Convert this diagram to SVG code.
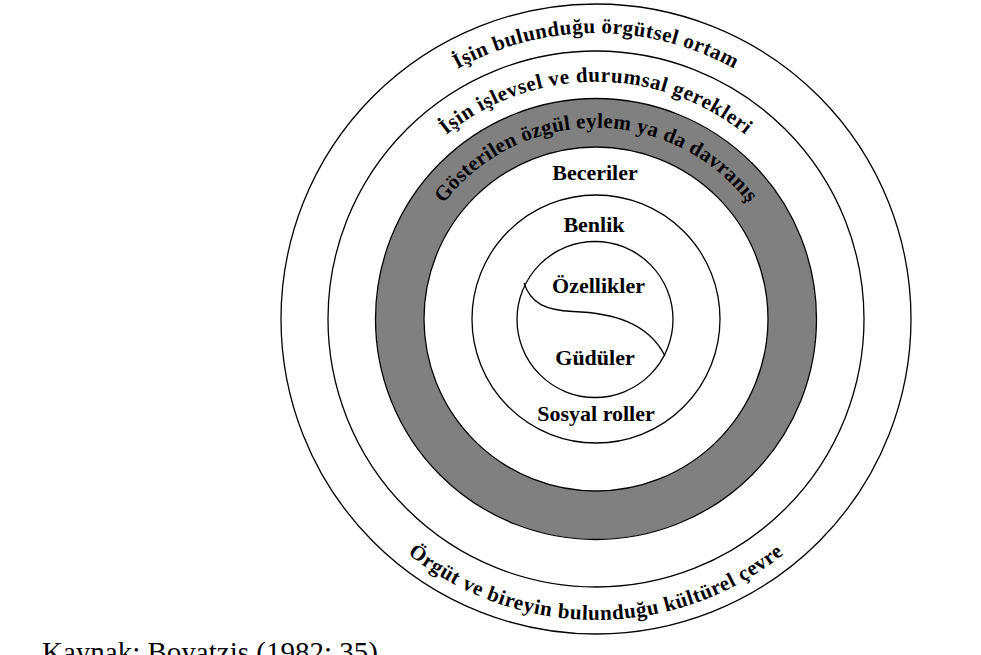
<svg xmlns="http://www.w3.org/2000/svg" width="981" height="655" viewBox="0 0 981 655">
<style>
.ring{fill:none;stroke:#000;stroke-width:1.3}
.lbl{font-family:"Liberation Serif","Times New Roman",serif;font-weight:bold;font-size:22px;fill:#000;text-anchor:middle}
.arc{font-family:"Liberation Serif","Times New Roman",serif;font-weight:bold;font-size:21px;fill:#000}
.src{font-family:"Liberation Serif","Times New Roman",serif;font-size:29px;fill:#000}
</style>
<defs>
<path id="p1" d="M310,319 A286,286 0 0 1 882,319"/>
<path id="p2" d="M358.7,319 A237.3,237.3 0 0 1 833.3,319"/>
<path id="p3" d="M404.7,319 A191.3,191.3 0 0 1 787.3,319"/>
<path id="p4" d="M295,319 A301,301 0 0 0 897,319"/>
</defs>
<rect width="981" height="655" fill="#fff"/>
<g id="outer">
<circle class="ring" cx="596" cy="319" r="315"/>
<text class="arc" letter-spacing="0.5"><textPath href="#p1" startOffset="50%" text-anchor="middle">İşin bulunduğu örgütsel ortam</textPath></text>
<text class="arc" letter-spacing="0.6"><textPath href="#p4" startOffset="50%" text-anchor="middle">Örgüt ve bireyin bulunduğu kültürel çevre</textPath></text>
</g>
<g id="ring2">
<circle class="ring" cx="596" cy="319" r="268"/>
<text class="arc" letter-spacing="0.57"><textPath href="#p2" startOffset="50%" text-anchor="middle">İşin işlevsel ve durumsal gerekleri</textPath></text>
</g>
<g id="behaviour">
<circle cx="596" cy="319" r="196.2" fill="none" stroke="#808080" stroke-width="48"/>
<circle class="ring" cx="596" cy="319" r="220.5"/>
<circle class="ring" cx="596" cy="319" r="172"/>
<text class="arc" letter-spacing="0.3"><textPath href="#p3" startOffset="50%" text-anchor="middle">Gösterilen özgül eylem ya da davranış</textPath></text>
</g>
<g id="skills">
<text class="lbl" x="595" y="180">Beceriler</text>
</g>
<g id="self">
<circle class="ring" cx="596" cy="319" r="124"/>
<text class="lbl" x="594" y="232">Benlik</text>
<text class="lbl" x="596" y="421">Sosyal roller</text>
</g>
<g id="core">
<circle class="ring" cx="595" cy="319.5" r="78"/>
<path class="ring" d="M524,283 C531,304 546,310 573,311.5 C612,313 648,322 665,356"/>
<text class="lbl" x="598.5" y="293">Özellikler</text>
<text class="lbl" x="595" y="365">Güdüler</text>
</g>
<text class="src" x="42" y="661.5">Kaynak: Boyatzis (1982; 35)</text>
</svg>
